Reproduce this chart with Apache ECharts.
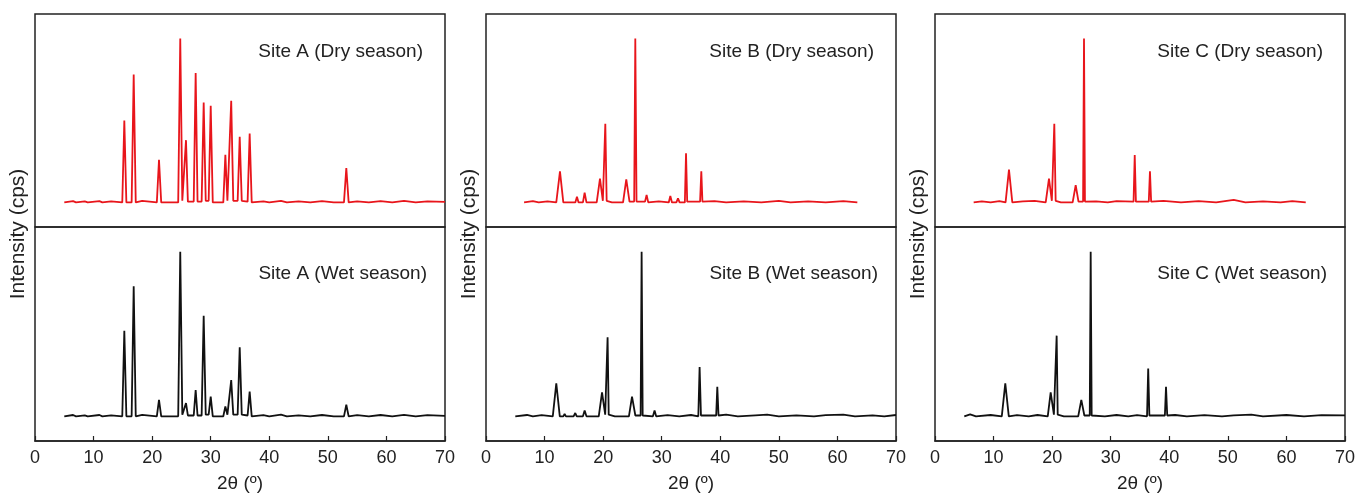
<!DOCTYPE html>
<html>
<head>
<meta charset="utf-8">
<script src="https://cdn.jsdelivr.net/npm/echarts@6/dist/echarts.min.js"></script>
<style>
  html, body { margin: 0; padding: 0; background: #fff; }
  #main { width: 1359px; height: 495px; }
</style>
</head>
<body>
<div id="main"></div>
<script>
// 2θ / intensity pairs (tallest peak of each pattern = 100)
var siteADry = [
  [5,0],[6.5,0.8],[7,0],[8.5,0.6],[9,0],[11,0.8],[11.5,0],[13,0.6],[14.9,0],
  [15.25,50],[15.6,0],[16.5,0],[16.85,78],[17.2,0],[18.3,0.9],[18.6,0],[20.8,0],
  [21.17,26],[21.55,0],[24.45,0],[24.8,100],[25.15,1],[25.45,1],[25.78,38],[26.1,0.5],
  [27.1,0.5],[27.43,79],[27.75,0.5],[28.45,0.5],[28.8,61],[29.15,1],[29.65,1],[30.0,59],[30.35,0],
  [32.15,0],[32.5,29],[32.85,1],[33.15,1],[33.5,62],[33.85,1],[34.6,1],[34.95,40],[35.3,1],
  [36.3,0.5],[36.65,42],[37.0,0],[39,0.7],[40,0],[42,1],[43,0],[45,0.6],[47,0],[49,0.8],[51,0],
  [52.75,0],[53.15,21],[53.55,0],[55,0.7],[57,0],[59,0.8],[61,0],[63,0.9],[65,0],[67,0.7],[70,0.3]
];
var siteAWet = [
  [5,0],[6.5,0.8],[7,0],[8.5,0.6],[9,0],[11,0.8],[11.5,0],[13,0.6],[14.9,0],
  [15.25,52],[15.6,0],[16.5,0],[16.85,79],[17.2,0],[18.3,0.9],[18.6,0],[20.8,0],
  [21.17,10],[21.55,0],[24.45,0],[24.8,100],[25.15,1],[25.45,1],[25.78,8],[26.1,0.5],
  [27.1,0.5],[27.43,16],[27.75,0.5],[28.45,0.5],[28.8,61],[29.15,1],[29.65,1],[30.0,12],[30.35,0],
  [32.15,0],[32.5,6],[32.85,1],[33.15,1],[33.5,22],[33.85,1],[34.6,1],[34.95,42],[35.3,1],
  [36.3,0.5],[36.65,15],[37.0,0],[39,0.7],[40,0],[42,1],[43,0],[45,0.6],[47,0],[49,0.8],[51,0],
  [52.75,0],[53.15,7],[53.55,0],[55,0.7],[57,0],[59,0.8],[61,0],[63,0.9],[65,0],[67,0.7],[70,0.3]
];
var siteBDry = [
  [6.5,0],[8,0.8],[9,0],[10.5,0.7],[12.0,0],[12.63,19],[13.2,0],[15.25,0],[15.53,3.5],[15.8,0],
  [16.55,0],[16.84,6],[17.15,0],[18.9,0],[19.46,14.5],[19.95,1],[20.15,1],[20.37,48],[20.6,1],[21.5,0],
  [23.4,0],[23.95,14],[24.5,0.5],[25.3,0.5],[25.49,100],[25.7,0.5],[27.15,0.5],[27.42,4.5],[27.7,0],
  [29.5,0.7],[31.2,0],[31.47,4],[31.75,0],[32.5,0],[32.78,2.5],[33.05,0],[33.95,0],[34.15,30],[34.35,0.5],
  [36.55,0.5],[36.76,19],[36.95,0.5],[39,0.8],[41,0],[44,0.6],[47,0],[50,0.9],[52,0],[55,0.7],[58,0],[61,0.8],[63.4,0]
];
var siteBWet = [
  [5,0],[7,0.8],[8,0],[9.5,0.7],[11.4,0],[12.0,20],[12.6,0],[13.2,0],[13.42,1.5],[13.65,0],
  [14.95,0],[15.24,2],[15.5,0],[16.55,0],[16.84,3.5],[17.15,0],[19.25,0],[19.81,14.5],[20.35,1],
  [20.55,1],[20.76,48],[20.95,1],[22,0],[24.4,0],[24.93,12],[25.5,0.5],[26.4,0.5],[26.57,100],[26.75,0.5],
  [28.5,0],[28.78,3.5],[29.05,0],[31,0.7],[33,0],[35,0.8],[36.25,0],[36.47,30],[36.7,0.5],
  [39.3,0.5],[39.49,18],[39.7,0.5],[41,1],[43,0],[46,0.6],[48,1],[50,0],[53,0.6],[56,0],[58,0.7],[61,1],[63,0],[66,0.6],[68,0],[70,0.8]
];
var siteCDry = [
  [6.6,0],[8,0.7],[9.5,0],[11,0.8],[12.05,0],[12.63,20],[13.2,0],[15,0.6],[17,1],[18.9,0],
  [19.46,14.5],[19.95,1],[20.15,1],[20.37,48],[20.6,1],[21.5,0],[23.5,0],[24.02,10.5],[24.5,0.5],
  [25.28,0.5],[25.44,100],[25.6,0.5],[27.5,0.6],[29.5,0],[31,0.8],[33.9,0.5],[34.1,29],[34.3,0.5],
  [36.5,0.5],[36.7,19],[36.9,0.5],[39,1],[42,0],[45,0.8],[48,0],[51,1.5],[53,0],[56,0.7],[59,0],[61,0.8],[63.3,0]
];
var siteCWet = [
  [5,0],[6,1.2],[7,0],[9.5,0.8],[11.4,0],[12.0,20],[12.6,0],[14,0.7],[16,0],[17.5,0.8],[19.25,0],
  [19.75,14.5],[20.3,1],[20.55,1],[20.77,49],[20.95,1],[22,0],[24.45,0],[24.98,10],[25.5,0.5],
  [26.42,0.5],[26.58,100],[26.75,0.5],[29,0],[31,0.8],[33,0],[34.5,0.7],[36.2,0],[36.4,29],[36.6,0.5],
  [39.25,0.5],[39.44,18],[39.65,0.5],[41,0.8],[43,0],[46,0.7],[49,0],[51,0.6],[54,1],[56,0],[60,0.8],[63,0],[66,0.7],[70,0.6]
];
var siteNames = ['Site A', 'Site B', 'Site C'];
var xTicks = [0, 10, 20, 30, 40, 50, 60, 70];

var RED = '#e8151b';
var INK = '#111';
var FONT = '"Liberation Sans", Arial, sans-serif';

var myChart = echarts.init(document.getElementById('main'));

var panelLeft = [35, 486, 935];
var panelW = 410;
var dryTop = 14, dryH = 213, wetTop = 227, wetH = 214;

var grids = [], xAxes = [], yAxes = [], series = [], graphics = [];
var dryData = [siteADry, siteBDry, siteCDry];
var wetData = [siteAWet, siteBWet, siteCWet];

for (var i = 0; i < 3; i++) {
  grids.push({ left: panelLeft[i], top: dryTop, width: panelW, height: dryH,
    show: true, borderColor: '#222', borderWidth: 1.5, backgroundColor: 'transparent' });
  grids.push({ left: panelLeft[i], top: wetTop, width: panelW, height: wetH,
    show: true, borderColor: '#222', borderWidth: 1.5, backgroundColor: 'transparent' });

  xAxes.push({ gridIndex: 2 * i, type: 'value', min: 0, max: 70, interval: 10, show: false });
  xAxes.push({
    gridIndex: 2 * i + 1, type: 'value', min: xTicks[0], max: xTicks[xTicks.length - 1], interval: 10,
    axisLine: { show: true, onZero: false, lineStyle: { color: '#222', width: 1.5 } },
    axisTick: { show: true, inside: true, length: 5, lineStyle: { color: '#222', width: 1.2 } },
    axisLabel: { color: '#222', fontSize: 18, fontFamily: FONT, margin: 8 },
    splitLine: { show: false },
    name: '2θ (º)', nameLocation: 'middle', nameGap: 33,
    nameTextStyle: { color: '#222', fontSize: 19, fontFamily: FONT }
  });

  yAxes.push({ gridIndex: 2 * i, type: 'value', min: -15, max: 115, show: false });
  yAxes.push({ gridIndex: 2 * i + 1, type: 'value', min: -15, max: 115, show: false });

  series.push({ type: 'line', xAxisIndex: 2 * i, yAxisIndex: 2 * i, data: dryData[i],
    showSymbol: false, lineStyle: { color: RED, width: 1.8 }, silent: true });
  series.push({ type: 'line', xAxisIndex: 2 * i + 1, yAxisIndex: 2 * i + 1, data: wetData[i],
    showSymbol: false, lineStyle: { color: INK, width: 1.8 }, silent: true });

  // panel captions
  graphics.push({ type: 'text', x: panelLeft[i] + panelW - 22, y: 52,
    style: { text: siteNames[i] + ' (Dry season)', fill: '#222', font: '19px ' + FONT,
      textAlign: 'right', textVerticalAlign: 'middle' } });
  graphics.push({ type: 'text', x: panelLeft[i] + panelW - 18, y: 274,
    style: { text: siteNames[i] + ' (Wet season)', fill: '#222', font: '19px ' + FONT,
      textAlign: 'right', textVerticalAlign: 'middle' } });
  // y axis title
  graphics.push({ type: 'text', x: panelLeft[i] - 17, y: 234, rotation: Math.PI / 2,
    style: { text: 'Intensity (cps)', fill: '#222', font: '21px ' + FONT,
      textAlign: 'center', textVerticalAlign: 'middle' } });
}

var option = {
  animation: false,
  backgroundColor: '#fff',
  grid: grids,
  xAxis: xAxes,
  yAxis: yAxes,
  series: series,
  graphic: graphics
};
myChart.setOption(option);
</script>
</body>
</html>
